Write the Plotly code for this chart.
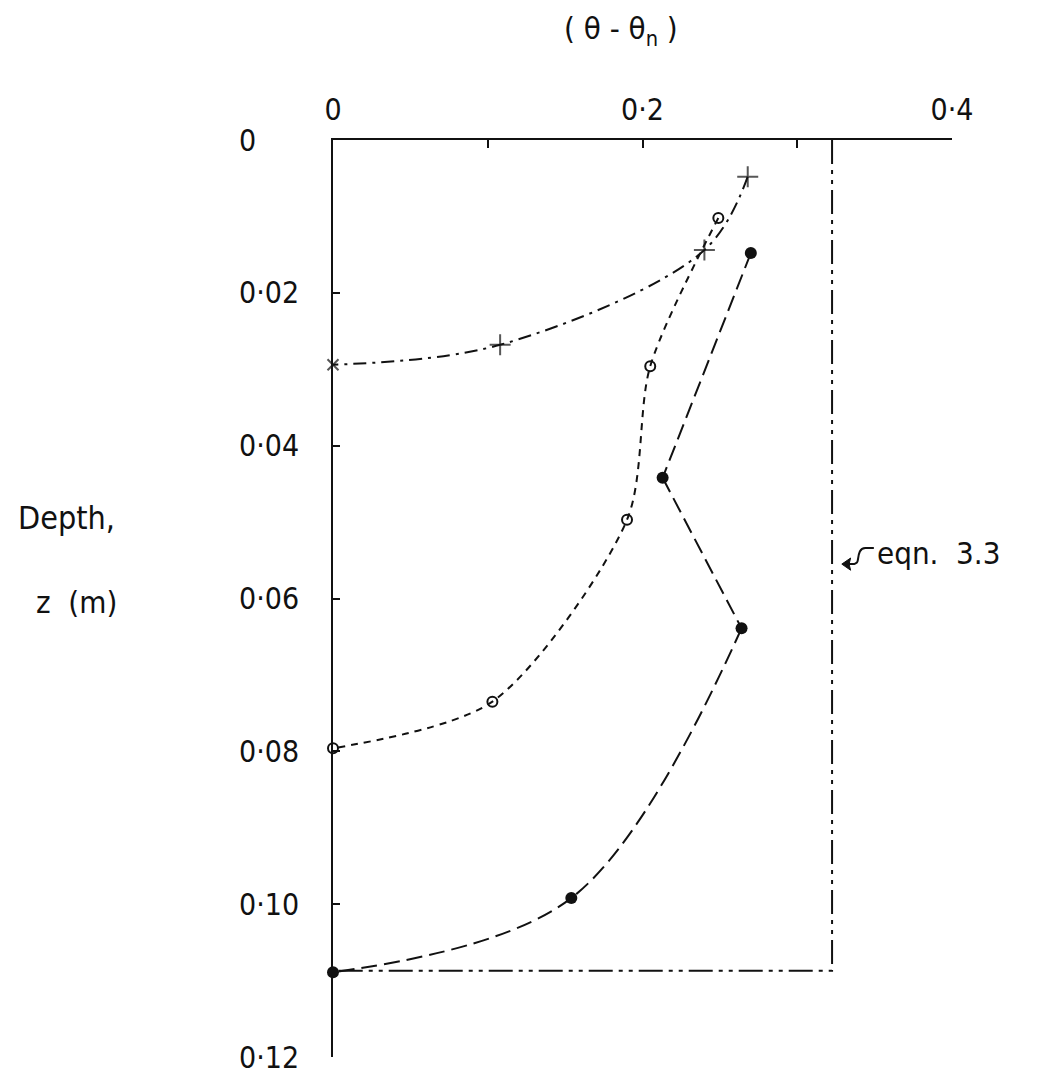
import plotly.graph_objects as go

# Moisture-excess profiles (theta - theta_n) against depth z (m)
theta_plus = [0.268, 0.240, 0.108, 0.0]
depth_plus = [0.0048, 0.0144, 0.0268, 0.0294]

theta_open = [0.249, 0.205, 0.190, 0.103, 0.0]
depth_open = [0.0102, 0.0296, 0.0497, 0.0735, 0.0796]

theta_fill = [0.270, 0.213, 0.264, 0.154, 0.0]
depth_fill = [0.0148, 0.0442, 0.0639, 0.0992, 0.1089]

# Step profile given by eqn. 3.3
theta_eqn = [0.3225, 0.3225, 0.0]
depth_eqn = [0.0, 0.1087, 0.1087]

x_ticks = [0.0, 0.2, 0.4]
x_ticktext = ["0", "0·2", "0·4"]
x_minor = [0.1, 0.3]
y_ticks = [0.0, 0.02, 0.04, 0.06, 0.08, 0.10, 0.12]
y_ticktext = ["0", "0·02", "0·04", "0·06", "0·08", "0·10", "0·12"]

FONT = "Liberation Sans Narrow, DejaVu Sans Condensed, Roboto, sans-serif"
INK = "#111111"

fig = go.Figure()

fig.add_trace(go.Scatter(
    x=theta_eqn, y=depth_eqn, mode="lines",
    line=dict(color=INK, width=2, dash="24px,6px,4px,6px,4px,6px"),
    cliponaxis=False, showlegend=False,
))

fig.add_trace(go.Scatter(
    x=theta_plus, y=depth_plus, mode="lines+markers",
    line=dict(color=INK, width=2, dash="13px,6px,3px,6px", shape="spline", smoothing=1.0),
    marker=dict(symbol=["cross-thin"] * 3 + ["x-thin"], size=[15, 15, 15, 11],
                color=INK, line=dict(color=INK, width=2)),
    cliponaxis=False, showlegend=False,
))

fig.add_trace(go.Scatter(
    x=theta_open, y=depth_open, mode="lines+markers",
    line=dict(color=INK, width=2, dash="7px,6px", shape="spline", smoothing=0.8),
    marker=dict(symbol="circle-open", size=10, color=INK, line=dict(color=INK, width=2)),
    cliponaxis=False, showlegend=False,
))

# Filled-circle profile: sharp turns at the 2nd and 3rd points, smooth below
fill_dash = dict(color=INK, width=2, dash="16px,7px")
for lo, hi, shape in [(0, 2, "linear"), (1, 3, "linear"), (2, 5, "spline")]:
    fig.add_trace(go.Scatter(
        x=theta_fill[lo:hi], y=depth_fill[lo:hi], mode="lines",
        line=dict(shape=shape, smoothing=1.0, **fill_dash),
        cliponaxis=False, showlegend=False,
    ))
fig.add_trace(go.Scatter(
    x=theta_fill, y=depth_fill, mode="markers",
    marker=dict(symbol="circle", size=12, color=INK),
    cliponaxis=False, showlegend=False,
))

annotations = []
# Depth tick labels, left aligned beside the axis
for v, t in zip(y_ticks, y_ticktext):
    annotations.append(dict(
        x=0, xref="paper", y=v, yref="y", text=t, showarrow=False,
        xanchor="left", yanchor="middle", xshift=-96,
        font=dict(family=FONT, size=30, color=INK),
    ))

annotations += [
    dict(x=0.5, xref="paper", y=1.0, yref="paper", yshift=110, xshift=-22,
         text="( θ - θ<sub>n</sub> )", showarrow=False, xanchor="center", yanchor="middle",
         font=dict(family=FONT, size=31, color=INK)),
    dict(x=-0.512, xref="paper", y=0.0495, yref="y", text="Depth,", showarrow=False,
         xanchor="left", yanchor="middle", font=dict(family=FONT, size=32, color=INK)),
    dict(x=-0.483, xref="paper", y=0.0605, yref="y", text="z  (m)", showarrow=False,
         xanchor="left", yanchor="middle", font=dict(family=FONT, size=31, color=INK)),
    dict(x=0.3505, xref="x", y=0.0540, yref="y", text="eqn.  3.3", showarrow=False,
         xanchor="left", yanchor="middle", font=dict(family=FONT, size=31, color=INK)),
]

# curly pointer from the eqn. 3.3 label to its line, with arrow head
shapes = [
    dict(type="path", xref="x", yref="y",
         path="M 0.3495,0.0534 L 0.3440,0.0534 C 0.3385,0.0534 0.3400,0.0551 0.3385,0.0553 "
              "C 0.3375,0.0555 0.3370,0.0555 0.3330,0.0555",
         line=dict(color=INK, width=2)),
    dict(type="path", xref="x", yref="y",
         path="M 0.3288,0.0555 L 0.3345,0.0547 L 0.3335,0.0555 L 0.3345,0.0563 Z",
         fillcolor=INK, line=dict(color=INK, width=1)),
]

fig.update_layout(
    width=1044, height=1075,
    margin=dict(l=333, r=92, t=140, b=18),
    paper_bgcolor="white", plot_bgcolor="white",
    annotations=annotations, shapes=shapes,
    xaxis=dict(
        range=[0, 0.4], side="top", showgrid=False, zeroline=False,
        showline=True, linecolor=INK, linewidth=2,
        ticks="inside", ticklen=8, tickwidth=2, tickcolor=INK,
        tickvals=x_ticks, ticktext=x_ticktext, ticklabelstandoff=6,
        tickfont=dict(family=FONT, size=30, color=INK),
        minor=dict(tickvals=x_minor, ticks="inside", ticklen=8, tickwidth=2,
                   tickcolor=INK, showgrid=False),
    ),
    yaxis=dict(
        range=[0.12, 0], showgrid=False, zeroline=False,
        showline=True, linecolor=INK, linewidth=2,
        ticks="inside", ticklen=7, tickwidth=2, tickcolor=INK,
        tickvals=y_ticks, showticklabels=False,
    ),
)

fig.write_html("out.html")
